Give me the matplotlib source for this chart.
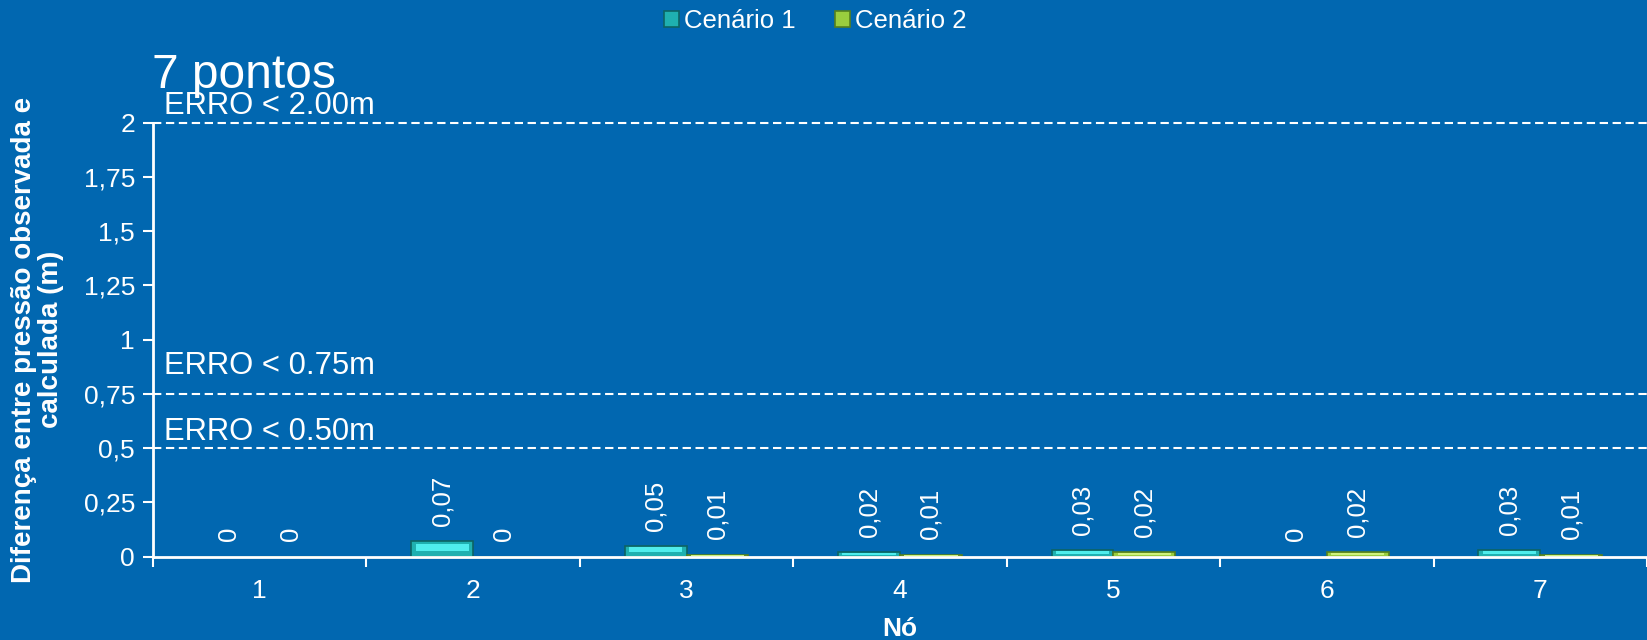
import matplotlib.pyplot as plt
from matplotlib.ticker import FixedLocator, FuncFormatter
import numpy as np

plt.rcParams['font.family'] = ['Liberation Sans', 'DejaVu Sans']

# Pressure difference per node (m)
nodes = ['1', '2', '3', '4', '5', '6', '7']
cenario1 = [0, 0.07, 0.05, 0.02, 0.03, 0, 0.03]
cenario2 = [0, 0, 0.01, 0.01, 0.02, 0.02, 0.01]
series_names = ['Cenário 1', 'Cenário 2']

# Error thresholds
limits = [2.00, 0.75, 0.50]
limit_labels = ['ERRO < 2.00m', 'ERRO < 0.75m', 'ERRO < 0.50m']

bg = '#0167B0'
fig = plt.figure(figsize=(16.47, 6.4), dpi=100, facecolor=bg)
ax = fig.add_axes([0.0929, 0.1302, 0.9071, 0.6781])
ax.set_facecolor(bg)

x = np.arange(1, len(nodes) + 1)
w = 0.29
face = ['#1FB0B0', '#9ACD3E']
edge = ['#0D6464', '#55801E']
light = ['#4FEDED', '#CDF27E']
handles = []
for i, vals in enumerate([cenario1, cenario2]):
    pos = x - w / 2 if i == 0 else x + w / 2
    h = ax.bar(pos, vals, w, color=face[i], edgecolor=edge[i], linewidth=1.2,
               label=series_names[i], zorder=3)
    handles.append(h)
    # lighter strip for the bevelled look
    ax.bar(pos, [v * 0.45 for v in vals], w * 0.86,
           bottom=[v * 0.4 for v in vals], color=light[i], linewidth=0, zorder=4)
    for p, v in zip(pos, vals):
        ax.annotate(f'{v:g}'.replace('.', ','), (p, v), xytext=(0, 11),
                    textcoords='offset points', rotation=90, ha='center',
                    va='bottom', color='white', fontsize=18.5)

for y in limits:
    ax.axhline(y, color='white', linestyle=(0, (4, 2.2)), linewidth=1.5,
               zorder=2, clip_on=False)
for y, lab, dy in zip(limits, limit_labels, [0.008, 0.058, 0.004]):
    ax.text(0.55, y + dy, lab, color='white', fontsize=22.3, va='bottom', ha='left')

ax.set_xlim(0.5, len(nodes) + 0.5)
ax.set_ylim(0, 2)
ax.set_yticks(np.arange(0, 2.01, 0.25))
ax.yaxis.set_major_formatter(FuncFormatter(lambda v, p: f'{v:g}'.replace('.', ',')))
ax.set_xticks(x)
ax.set_xticklabels(nodes)
ax.xaxis.set_minor_locator(FixedLocator(np.arange(0.5, len(nodes) + 1, 1)))
ax.tick_params(axis='x', which='major', length=0, pad=16, colors='white', labelsize=19)
ax.tick_params(axis='x', which='minor', length=7, width=1.5, color='white')
ax.tick_params(axis='y', length=7, width=1.5, colors='white', labelsize=19, pad=6)

for s in ['top', 'right']:
    ax.spines[s].set_visible(False)
for s in ['left', 'bottom']:
    ax.spines[s].set_color('white')
    ax.spines[s].set_linewidth(2)
    ax.spines[s].set_zorder(5)

ax.set_xlabel('Nó', color='white', fontsize=19, fontweight='bold', labelpad=10)
ax.set_ylabel('Diferença entre pressão observada e\ncalculada (m)', color='white',
              fontsize=20, fontweight='bold', labelpad=14, linespacing=1.05)

fig.text(0.0923, 0.863, '7 pontos', color='white', fontsize=34.5, ha='left', va='baseline')

leg = fig.legend(handles=handles, labels=series_names, loc='center',
                 bbox_to_anchor=(0.495, 0.967), ncol=2, frameon=False,
                 fontsize=18.5, handlelength=0.6, handleheight=0.6,
                 handletextpad=0.2, columnspacing=1.5)
for t in leg.get_texts():
    t.set_color('white')

fig.savefig('out.png', dpi=100, facecolor=bg)
